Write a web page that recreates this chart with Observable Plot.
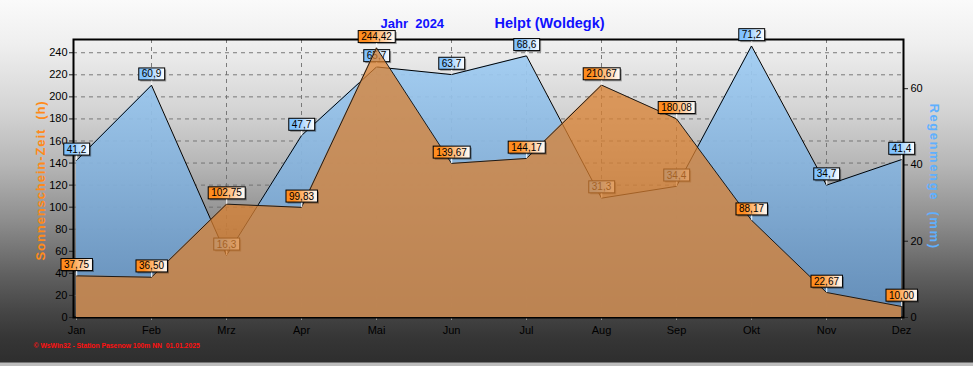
<!DOCTYPE html>
<html><head><meta charset="utf-8">
<script src="https://cdn.jsdelivr.net/npm/d3@7"></script>
<script src="https://cdn.jsdelivr.net/npm/@observablehq/plot@0.6"></script>
<style>
html,body{margin:0;padding:0;background:#2e2e2e;}
#chart svg{display:block;}
svg text{white-space:pre;}
</style></head><body><div id="chart"></div>
<script>
const months = ["Jan","Feb","Mrz","Apr","Mai","Jun","Jul","Aug","Sep","Okt","Nov","Dez"];
const sunHours = [37.75,36.50,102.75,99.83,244.42,139.67,144.17,210.67,180.08,88.17,22.67,10.00];
const rainMm = [41.2,60.9,16.3,47.7,65.7,63.7,68.6,31.3,34.4,71.2,34.7,41.4];
const sunTicks = [0,20,40,60,80,100,120,140,160,180,200,220,240];
const rainTicks = [0,20,40,60];
const titleYear = "Jahr  2024";
const titlePlace = "Helpt (Woldegk)";
const leftLabel = "Sonnenschein-Zeit  (h)";
const rightLabel = "Regenmenge  (mm)";
const footerText = "© WsWin32 - Station Pasenow 100m NN  01.01.2025";

const K = 3.457; // rain (mm) -> sunshine-axis units
const fmt = (v, d) => v.toFixed(d).replace(".", ",");
const data = months.map((m, i) => ({month: m, sun: sunHours[i], rain: rainMm[i], rainY: rainMm[i] * K}));

const chart = Plot.plot({
  width: 973, height: 366,
  marginLeft: 73, marginRight: 70, marginTop: 39, marginBottom: 49,
  style: {fontFamily: "Liberation Sans, Arial, sans-serif", fontSize: "11px", color: "black"},
  x: {type: "point", domain: months, padding: 0},
  y: {domain: [0, 252]},
  marks: [
    Plot.gridY(sunTicks.slice(1), {stroke: "#6e6e6e", strokeOpacity: 0.9, strokeDasharray: "4,4"}),
    Plot.gridX(months.slice(1, -1), {stroke: "#6e6e6e", strokeOpacity: 0.9, strokeDasharray: "4,4"}),
    Plot.axisY(sunTicks, {anchor: "left", tickSize: 4, tickPadding: 2, fontSize: 11, label: null, stroke: "#222"}),
    Plot.axisY(rainTicks.map(v => v * K), {anchor: "right", tickSize: 4, tickPadding: 3, fontSize: 11, label: null, stroke: "#222", tickFormat: d => String(Math.round(d / K))}),
    Plot.axisX({anchor: "bottom", tickSize: 3, tickPadding: 6, fontSize: 11, label: null, stroke: "#999"}),
    Plot.frame({stroke: "black", strokeWidth: 2}),
    Plot.areaY(data, {x: "month", y: "rainY", fill: "url(#rainGrad)", fillOpacity: 0.93}),
    Plot.lineY(data, {x: "month", y: "rainY", stroke: "black", strokeWidth: 1}),
    Plot.text(data, {x: "month", y: "rainY", text: d => fmt(d.rain, 1), dy: -11, fontSize: 10, fill: "black"}),
    Plot.areaY(data, {x: "month", y: "sun", fill: "#d98030", fillOpacity: 0.75}),
    Plot.lineY(data, {x: "month", y: "sun", stroke: "#1a1a1a", strokeWidth: 1}),
    Plot.text(data, {x: "month", y: "sun", text: d => fmt(d.sun, 2), dy: -11, fontSize: 10, fill: "black"}),
    Plot.text([titleYear], {frameAnchor: "top-left", dx: 307, dy: -16, lineAnchor: "middle", textAnchor: "start", fontSize: 13, fontWeight: "bold", fill: "#1010ff"}),
    Plot.text([titlePlace], {frameAnchor: "top-left", dx: 421, dy: -16, lineAnchor: "middle", textAnchor: "start", fontSize: 14.5, fontWeight: "bold", fill: "#1010ff"}),
    Plot.text([leftLabel], {frameAnchor: "left", dx: -33, dy: 2, rotate: -90, textAnchor: "middle", fontSize: 13, fontWeight: "bold", fill: "#ff8a1a"}),
    Plot.text([rightLabel], {frameAnchor: "right", dx: 31, dy: -2, rotate: 90, textAnchor: "middle", fontSize: 13, fontWeight: "bold", fill: "#5fb0ff"}),
    Plot.text([footerText], {frameAnchor: "bottom-left", dx: -40, dy: 30, textAnchor: "start", fontSize: 6.8, fontWeight: "bold", fill: "#ff1010"})
  ]
});

chart.style.background = "linear-gradient(to bottom, #fafafa 0px, #efefef 44px, #d4d4d4 110px, #b6b6b6 165px, #8e8e8e 220px, #606060 275px, #464646 311px, #363636 337px, #2e2e2e 362px, #bdbdbd 363px, #bdbdbd 366px)";
document.getElementById("chart").appendChild(chart);

const NS = "http://www.w3.org/2000/svg";
const svg = d3.select(chart);
const textGroups = svg.selectAll('g[aria-label="text"]').nodes();
// order: rain labels, sun labels, title year, title place, left label, right label, footer
d3.select(textGroups[4]).selectAll("text").style("letter-spacing", "0.9px");
d3.select(textGroups[5]).selectAll("text").style("letter-spacing", "1.6px");

const defs = svg.insert("defs", ":first-child");
const rg = defs.append("linearGradient").attr("id", "rainGrad").attr("gradientUnits", "userSpaceOnUse")
  .attr("x1", 0).attr("y1", 39).attr("x2", 0).attr("y2", 317);
rg.append("stop").attr("offset", "0%").attr("stop-color", "#a2cff5");
rg.append("stop").attr("offset", "100%").attr("stop-color", "#6592c0");
function boxGrad(id, c) {
  const g = defs.append("linearGradient").attr("id", id).attr("x1", 0).attr("y1", 0).attr("x2", 1).attr("y2", 0);
  g.append("stop").attr("offset", "0%").attr("stop-color", c);
  g.append("stop").attr("offset", "25%").attr("stop-color", c);
  g.append("stop").attr("offset", "100%").attr("stop-color", "#ffffff");
}
boxGrad("sunBox", "#ff8c1e");
boxGrad("rainBox", "#80c2ff");

function boxify(group, gradId) {
  d3.select(group).selectAll("text").each(function () {
    const b = this.getBBox();
    const cx = b.x + b.width / 2, cy = b.y + b.height / 2;
    const w = b.width + 6, h = 12;
    const g = document.createElementNS(NS, "g");
    const tr = this.getAttribute("transform");
    if (tr) g.setAttribute("transform", tr);
    const sh = document.createElementNS(NS, "rect");
    sh.setAttribute("x", cx - w / 2 + 1.5); sh.setAttribute("y", cy - h / 2 + 1.5);
    sh.setAttribute("width", w); sh.setAttribute("height", h);
    sh.setAttribute("fill", "rgba(0,0,0,0.35)");
    const r = document.createElementNS(NS, "rect");
    r.setAttribute("x", cx - w / 2); r.setAttribute("y", cy - h / 2);
    r.setAttribute("width", w); r.setAttribute("height", h);
    r.setAttribute("fill", `url(#${gradId})`); r.setAttribute("stroke", "black"); r.setAttribute("stroke-width", 1);
    const l = document.createElementNS(NS, "line");
    l.setAttribute("x1", cx); l.setAttribute("x2", cx);
    l.setAttribute("y1", cy + h / 2); l.setAttribute("y2", cy + 11);
    l.setAttribute("stroke", "white"); l.setAttribute("stroke-width", 1);
    g.appendChild(sh); g.appendChild(l); g.appendChild(r);
    this.parentNode.insertBefore(g, this);
  });
}
boxify(textGroups[0], "rainBox");
boxify(textGroups[1], "sunBox");
</script></body></html>
